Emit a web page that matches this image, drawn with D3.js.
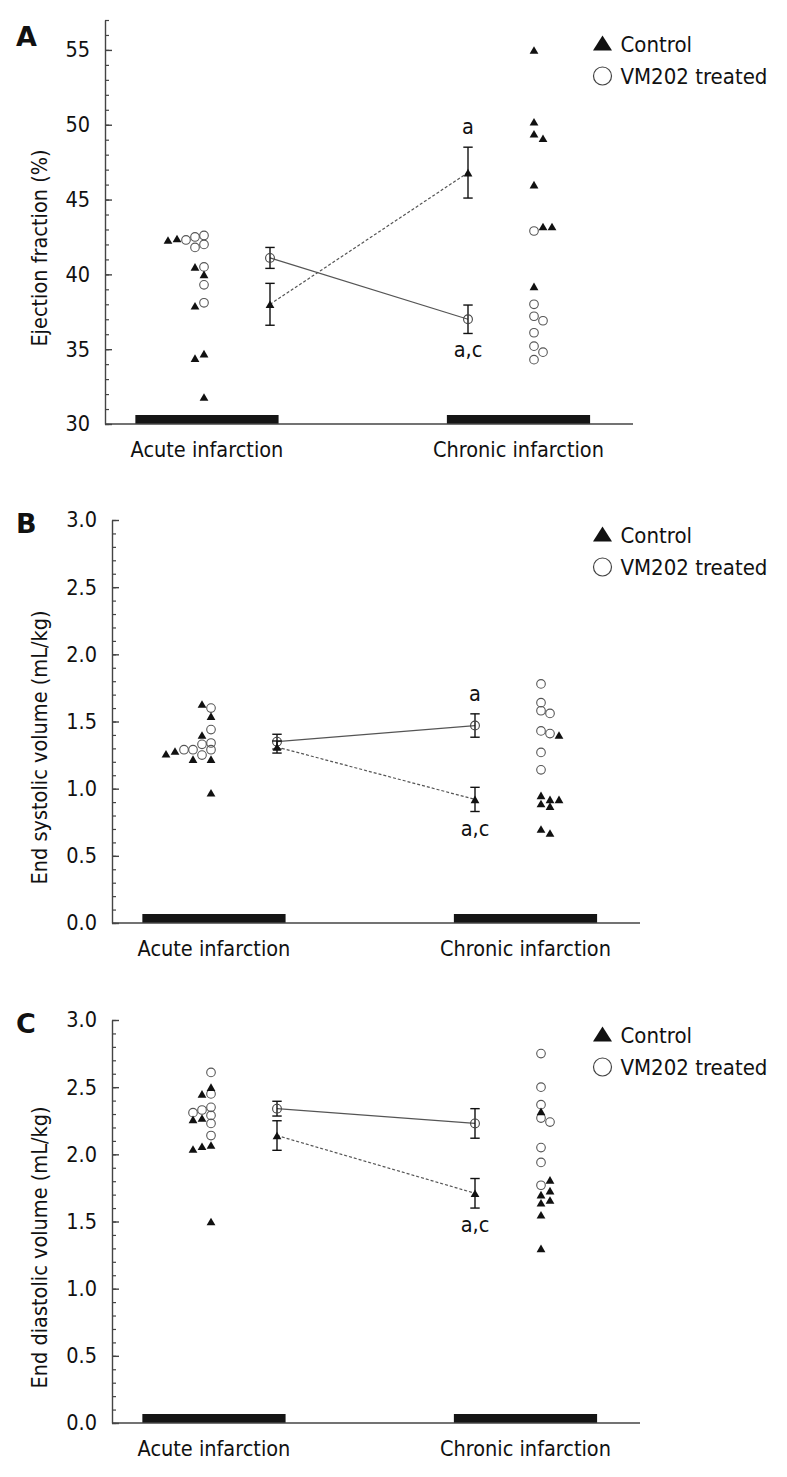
<!DOCTYPE html>
<html>
<head>
<meta charset="utf-8">
<script src="https://cdn.jsdelivr.net/npm/d3@7"></script>
<style>
    body { margin: 0; background: #fff; }
    svg text { font-family: "DejaVu Sans Condensed", "DejaVu Sans", sans-serif; font-stretch: condensed; fill: #111; }
</style>
</head>
<body>
<div id="chart"></div>
<script>
// categories
const phases = ["Acute infarction", "Chronic infarction"];
const groups = ["Control", "VM202 treated"];

// A - ejection fraction (%)
const efControlAcute = [42.4, 42.3, 40.5, 40.0, 37.9, 34.7, 34.4, 31.8];
const efTreatedAcute = [42.6, 42.5, 42.3, 42.0, 41.8, 40.5, 39.3, 38.1];
const efControlChronic = [55.0, 50.2, 49.4, 49.1, 46.0, 43.2, 43.2, 39.2];
const efTreatedChronic = [42.9, 38.0, 37.2, 36.9, 36.1, 35.2, 34.8, 34.3];
const efControlMean = [38.0, 46.8];
const efControlSem = [1.4, 1.7];
const efTreatedMean = [41.1, 37.0];
const efTreatedSem = [0.7, 0.95];
const efTicks = [30, 35, 40, 45, 50, 55];
const efNotes = [
    {group: "Control", phase: 1, text: "a", side: "above"},
    {group: "VM202 treated", phase: 1, text: "a,c", side: "below"}
];

// B - end systolic volume (mL/kg)
const esvControlAcute = [1.63, 1.54, 1.40, 1.28, 1.26, 1.22, 1.22, 0.97];
const esvTreatedAcute = [1.60, 1.44, 1.34, 1.33, 1.29, 1.29, 1.29, 1.25];
const esvControlChronic = [1.40, 0.95, 0.92, 0.92, 0.89, 0.87, 0.70, 0.67];
const esvTreatedChronic = [1.78, 1.64, 1.58, 1.56, 1.43, 1.41, 1.27, 1.14];
const esvControlMean = [1.31, 0.92];
const esvControlSem = [0.045, 0.09];
const esvTreatedMean = [1.35, 1.47];
const esvTreatedSem = [0.055, 0.087];
const esvTicks = [0, 0.5, 1.0, 1.5, 2.0, 2.5, 3.0];
const esvNotes = [
    {group: "VM202 treated", phase: 1, text: "a", side: "above"},
    {group: "Control", phase: 1, text: "a,c", side: "below"}
];

// C - end diastolic volume (mL/kg)
const edvControlAcute = [2.50, 2.45, 2.27, 2.26, 2.07, 2.06, 2.04, 1.50];
const edvTreatedAcute = [2.61, 2.45, 2.35, 2.33, 2.31, 2.29, 2.23, 2.14];
const edvControlChronic = [2.32, 1.81, 1.73, 1.70, 1.66, 1.64, 1.55, 1.30];
const edvTreatedChronic = [2.75, 2.50, 2.37, 2.27, 2.24, 2.05, 1.94, 1.77];
const edvControlMean = [2.14, 1.71];
const edvControlSem = [0.11, 0.11];
const edvTreatedMean = [2.34, 2.23];
const edvTreatedSem = [0.055, 0.11];
const edvTicks = [0, 0.5, 1.0, 1.5, 2.0, 2.5, 3.0];
const edvNotes = [
    {group: "Control", phase: 1, text: "a,c", side: "below"}
];

// layout
const plotW = 528;
const rawPos = [1.5, 6.5];      // x position of the individual points, per phase
const meanPos = [2.5, 5.5];     // x position of mean +/- SEM
const dodgeDir = [-1, 1];       // overlapping points move left (acute) or right (chronic)
const barSpan = [[0.46, 2.63], [5.18, 7.35]];
const fontSize = 21.5;

const svg = d3.select("#chart").append("svg")
    .attr("width", 787)
    .attr("height", 1477);

svg.append("rect").attr("width", 787).attr("height", 1477).attr("fill", "#fff");

function triPath(w, h) {
    return "M0," + (-h / 2) + "L" + (w / 2) + "," + (h / 2) + "L" + (-w / 2) + "," + (h / 2) + "Z";
}

// place points of one phase in columns, shifting sideways when they overlap
function dodge(points, baseX, dir, y) {
    let step = 9, minDist = 6.5;
    let placed = [];
    points.forEach(function (p) {
        let py = y(p.v);
        let k = 0;
        while (placed.some(q => Math.hypot(q.x - (baseX + dir * k * step), q.y - py) < minDist)) k++;
        placed.push({x: baseX + dir * k * step, y: py, g: p.g});
    });
    return placed;
}

const panels = [
    {
        letter: "A", top: 20, left: 105, height: 404, domain: [30, 57], ticks: efTicks,
        minor: d3.range(30, 57.5, 1), fmt: d3.format("d"), title: "Ejection fraction (%)",
        raw: [[efControlAcute, efTreatedAcute], [efControlChronic, efTreatedChronic]],
        mean: [efControlMean, efTreatedMean], sem: [efControlSem, efTreatedSem],
        notes: efNotes, letterY: 46, legendY: 43
    },
    {
        letter: "B", top: 520, left: 112, height: 403, domain: [0, 3], ticks: esvTicks,
        minor: d3.range(0, 3.05, 0.1), fmt: d3.format(".1f"), title: "End systolic volume (mL/kg)",
        raw: [[esvControlAcute, esvTreatedAcute], [esvControlChronic, esvTreatedChronic]],
        mean: [esvControlMean, esvTreatedMean], sem: [esvControlSem, esvTreatedSem],
        notes: esvNotes, letterY: 533, legendY: 534
    },
    {
        letter: "C", top: 1020, left: 112, height: 403, domain: [0, 3], ticks: edvTicks,
        minor: d3.range(0, 3.05, 0.1), fmt: d3.format(".1f"), title: "End diastolic volume (mL/kg)",
        raw: [[edvControlAcute, edvTreatedAcute], [edvControlChronic, edvTreatedChronic]],
        mean: [edvControlMean, edvTreatedMean], sem: [edvControlSem, edvTreatedSem],
        notes: edvNotes, letterY: 1033, legendY: 1034
    }
];

panels.forEach(function (p) {
    let g = svg.append("g").attr("transform", "translate(" + p.left + "," + p.top + ")");

    let x = d3.scaleLinear().domain([0, 8]).range([0, plotW]);
    let y = d3.scaleLinear().domain(p.domain).range([p.height, 0]);

    // panel letter
    svg.append("text")
        .attr("x", 16)
        .attr("y", p.letterY)
        .style("font-size", "27px")
        .style("font-weight", "bold")
        .style("font-stretch", "normal")
        .style("font-family", "'DejaVu Sans', sans-serif")
        .text(p.letter);

    // phase bars on the baseline
    g.selectAll(".phase-bar")
        .data(phases)
        .enter().append("rect")
        .attr("x", (d, i) => x(barSpan[i][0]))
        .attr("width", (d, i) => x(barSpan[i][1]) - x(barSpan[i][0]))
        .attr("y", p.height - 9)
        .attr("height", 9)
        .attr("fill", "#151515");

    g.selectAll(".phase-label")
        .data(phases)
        .enter().append("text")
        .attr("x", (d, i) => x((barSpan[i][0] + barSpan[i][1]) / 2))
        .attr("y", p.height + 32.5)
        .attr("text-anchor", "middle")
        .style("font-size", fontSize + "px")
        .text(d => d);

    // x axis line
    g.append("line")
        .attr("x1", 0).attr("x2", plotW)
        .attr("y1", p.height).attr("y2", p.height)
        .attr("stroke", "#444").attr("stroke-width", 1.4);

    // y axis, ticks pointing inward
    let yAxis = g.append("g")
        .call(d3.axisLeft(y).tickValues(p.ticks).tickFormat(p.fmt)
            .tickSizeInner(-7).tickSizeOuter(0).tickPadding(15));
    yAxis.select(".domain").attr("stroke", "#444").attr("stroke-width", 1.4);
    yAxis.selectAll(".tick line").attr("stroke", "#444").attr("stroke-width", 1.4);
    yAxis.selectAll(".tick text")
        .style("font-size", fontSize + "px")
        .attr("fill", "#111");
    yAxis.attr("font-family", null).attr("font-size", null);

    let minorAxis = g.append("g")
        .call(d3.axisLeft(y).tickValues(p.minor).tickFormat("").tickSizeInner(-4).tickSizeOuter(0));
    minorAxis.select(".domain").remove();
    minorAxis.selectAll(".tick line").attr("stroke", "#444").attr("stroke-width", 1.2);

    // y axis title
    g.append("text")
        .attr("transform", "translate(" + (46.5 - p.left) + "," + (p.height / 2 + 26) + ") rotate(-90)")
        .attr("text-anchor", "middle")
        .style("font-size", fontSize + "px")
        .text(p.title);

    // individual points
    phases.forEach(function (ph, i) {
        let pts = [];
        p.raw[i][1].slice().sort(d3.descending).forEach(v => pts.push({v: v, g: 1}));
        p.raw[i][0].slice().sort(d3.descending).forEach(v => pts.push({v: v, g: 0}));
        let placed = dodge(pts, x(rawPos[i]), dodgeDir[i], y);

        g.selectAll(".raw-circle-" + i)
            .data(placed.filter(d => d.g === 1))
            .enter().append("circle")
            .attr("cx", d => d.x)
            .attr("cy", d => d.y)
            .attr("r", 4.3)
            .attr("fill", "none")
            .attr("stroke", "#555")
            .attr("stroke-width", 1.1);

        g.selectAll(".raw-tri-" + i)
            .data(placed.filter(d => d.g === 0))
            .enter().append("path")
            .attr("d", triPath(8.8, 7.6))
            .attr("transform", d => "translate(" + d.x + "," + d.y + ")")
            .attr("fill", "#111");
    });

    // connecting lines of the means
    let line = d3.line().x((d, i) => x(meanPos[i])).y(d => y(d));
    g.append("path")
        .datum(p.mean[1])
        .attr("d", line)
        .attr("fill", "none")
        .attr("stroke", "#555")
        .attr("stroke-width", 1.2);
    g.append("path")
        .datum(p.mean[0])
        .attr("d", line)
        .attr("fill", "none")
        .attr("stroke", "#555")
        .attr("stroke-width", 1.2)
        .attr("stroke-dasharray", "3,2");

    // mean +/- SEM
    [1, 0].forEach(function (gi) {
        let m = p.mean[gi], s = p.sem[gi];
        let eb = g.selectAll(".eb-" + gi)
            .data(m)
            .enter().append("g")
            .attr("transform", (d, i) => "translate(" + x(meanPos[i]) + ",0)");
        eb.append("line")
            .attr("x1", 0).attr("x2", 0)
            .attr("y1", (d, i) => y(d + s[i]))
            .attr("y2", (d, i) => y(d - s[i]))
            .attr("stroke", "#111").attr("stroke-width", 1.4);
        eb.append("line")
            .attr("x1", -4.7).attr("x2", 4.7)
            .attr("y1", (d, i) => y(d + s[i]))
            .attr("y2", (d, i) => y(d + s[i]))
            .attr("stroke", "#111").attr("stroke-width", 1.4);
        eb.append("line")
            .attr("x1", -4.7).attr("x2", 4.7)
            .attr("y1", (d, i) => y(d - s[i]))
            .attr("y2", (d, i) => y(d - s[i]))
            .attr("stroke", "#111").attr("stroke-width", 1.4);
        if (gi === 1) {
            eb.append("circle")
                .attr("cy", d => y(d))
                .attr("r", 4.4)
                .attr("fill", "none")
                .attr("stroke", "#444")
                .attr("stroke-width", 1.1);
        } else {
            eb.append("path")
                .attr("d", triPath(8.8, 7.6))
                .attr("transform", d => "translate(0," + y(d) + ")")
                .attr("fill", "#111");
        }
    });

    // significance letters
    g.selectAll(".note")
        .data(p.notes)
        .enter().append("text")
        .attr("x", d => x(meanPos[d.phase]))
        .attr("y", function (d) {
            let gi = groups.indexOf(d.group);
            let m = p.mean[gi][d.phase], s = p.sem[gi][d.phase];
            return d.side === "above" ? y(m + s) - 13 : y(m - s) + 24;
        })
        .attr("text-anchor", "middle")
        .style("font-size", fontSize + "px")
        .text(d => d.text);

    // legend
    let lg = svg.append("g").attr("transform", "translate(602.5," + p.legendY + ")");
    lg.append("path").attr("d", triPath(19, 15)).attr("fill", "#111");
    lg.append("text").attr("x", 18).attr("y", 8.5).style("font-size", "22px").text(groups[0]);
    lg.append("circle").attr("cy", 33).attr("r", 9).attr("fill", "none").attr("stroke", "#444").attr("stroke-width", 1.2);
    lg.append("text").attr("x", 18).attr("y", 41).style("font-size", "22px").text(groups[1]);
});
</script>
</body>
</html>
